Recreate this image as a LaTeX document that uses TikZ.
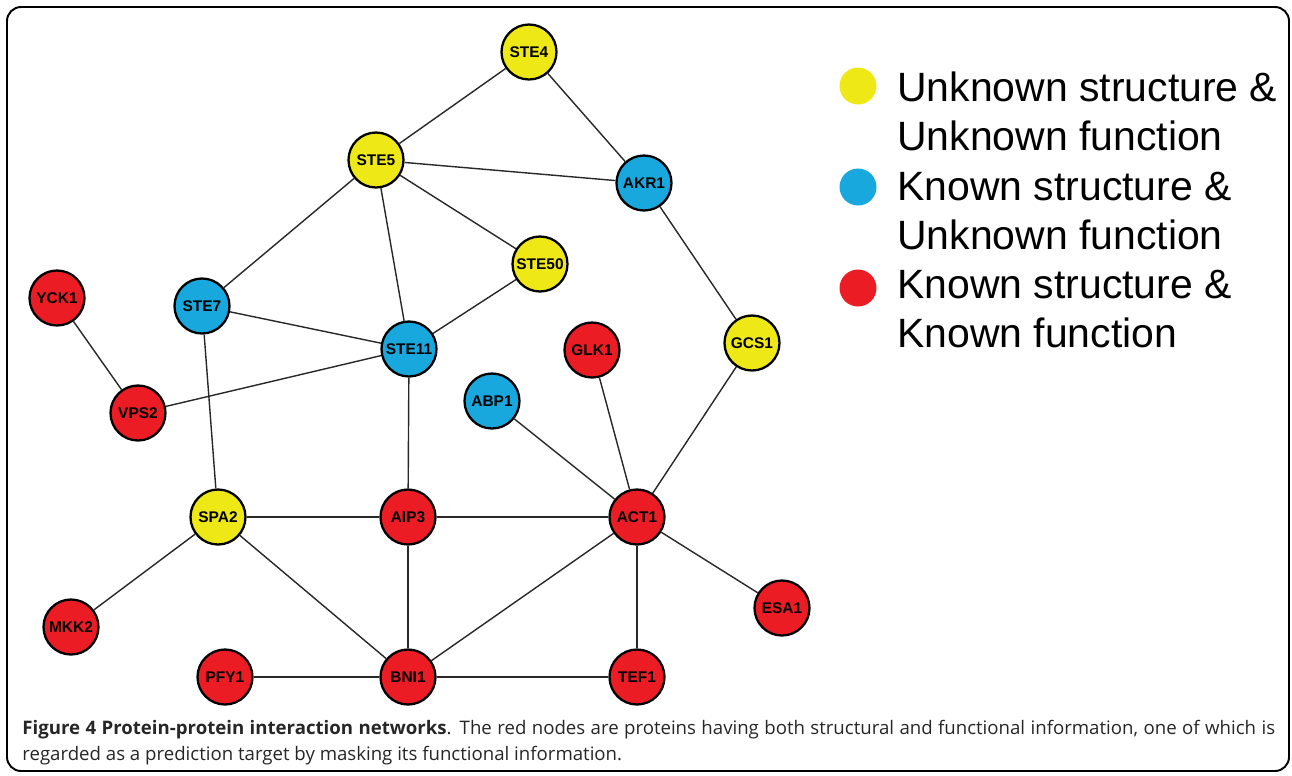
\documentclass[tikz,border=0pt]{standalone}
\usepackage{fontspec}
\newfontfamily\legfont{Liberation Sans}
\newfontfamily\capfont{Open Sans}
\newfontfamily\labfont{Liberation Sans}
\definecolor{pyellow}{RGB}{238,232,22}
\definecolor{pblue}{RGB}{24,168,222}
\definecolor{pred}{RGB}{236,28,36}
\definecolor{edgegray}{RGB}{40,40,40}
\tikzset{
  protein/.style={circle, draw=black, line width=1.3pt, minimum size=1.1cm, inner sep=0pt,
    font=\labfont\bfseries\fontsize{8.8}{9}\selectfont},
  unkunk/.style={protein, fill=pyellow},
  knunk/.style={protein, fill=pblue},
  knkn/.style={protein, fill=pred},
  link/.style={draw=edgegray, line width=0.8pt},
  legdot/.style={circle, minimum size=0.74cm, inner sep=0pt},
  legtext/.style={anchor=base west, inner sep=0pt, font=\legfont\fontsize{23.3}{27}\selectfont},
  captext/.style={anchor=base west, inner sep=0pt, font=\capfont\fontsize{10.6}{14}\selectfont, text=black!85}
}
\begin{document}
\begin{tikzpicture}[x=0.02cm, y=-0.02cm]
\useasboundingbox (0,0) rectangle (1292,775);
% frame
\draw[line width=1.1pt, rounded corners=8pt] (7,7) rectangle (1289,771);

% proteins
\node[unkunk] (STE4)  at (529,52)  {STE4};
\node[unkunk] (STE5)  at (376,160) {STE5};
\node[knunk]  (AKR1)  at (644,183) {AKR1};
\node[unkunk] (STE50) at (540,264) {STE50};
\node[knunk]  (STE7)  at (202,306) {STE7};
\node[knunk]  (STE11) at (409,349) {STE11};
\node[knkn]   (YCK1)  at (57,298)  {YCK1};
\node[knkn]   (GLK1)  at (592,350) {GLK1};
\node[unkunk] (GCS1)  at (752,343) {GCS1};
\node[knunk]  (ABP1)  at (492,401) {ABP1};
\node[knkn]   (VPS2)  at (138,413) {VPS2};
\node[unkunk] (SPA2)  at (218,517) {SPA2};
\node[knkn]   (AIP3)  at (408,517) {AIP3};
\node[knkn]   (ACT1)  at (637,517) {ACT1};
\node[knkn]   (ESA1)  at (782,608) {ESA1};
\node[knkn]   (MKK2)  at (71,627)  {MKK2};
\node[knkn]   (PFY1)  at (225,677) {PFY1};
\node[knkn]   (BNI1)  at (408,677) {BNI1};
\node[knkn]   (TEF1)  at (637,677) {TEF1};

% interactions
\foreach \a/\b in {STE4/STE5, STE4/AKR1, STE5/AKR1, STE5/STE7, STE5/STE11, STE5/STE50,
  STE50/STE11, STE7/STE11, STE7/SPA2, YCK1/VPS2, VPS2/STE11, STE11/AIP3, AKR1/GCS1,
  GCS1/ACT1, GLK1/ACT1, ABP1/ACT1, SPA2/AIP3, AIP3/ACT1, SPA2/MKK2, SPA2/BNI1,
  AIP3/BNI1, ACT1/BNI1, ACT1/TEF1, ACT1/ESA1, PFY1/BNI1, BNI1/TEF1}
  \draw[link] (\a) -- (\b);

% legend
\node[legdot, fill=pyellow] (dotY) at (858,86) {};
\node[legdot, fill=pblue]   (dotB) at (858,187) {};
\node[legdot, fill=pred]    (dotR) at (858,288) {};
\node[legtext] (l1) at (897,101) {Unknown structure \&};
\node[legtext] (l2) at (897,150) {Unknown function};
\node[legtext] (l3) at (897,200) {Known structure \&};
\node[legtext] (l4) at (897,249) {Unknown function};
\node[legtext] (l5) at (897,298) {Known structure \&};
\node[legtext] (l6) at (897,347) {Known function};

% caption
\node[captext] (cap1) at (22,734) {\makebox[25.06cm][s]{\textbf{Figure 4 Protein-protein interaction networks}. The red nodes are proteins having both structural and functional information, one of which is}};
\node[captext] (cap2) at (22,760) {regarded as a prediction target by masking its functional information.};
\end{tikzpicture}
\end{document}
